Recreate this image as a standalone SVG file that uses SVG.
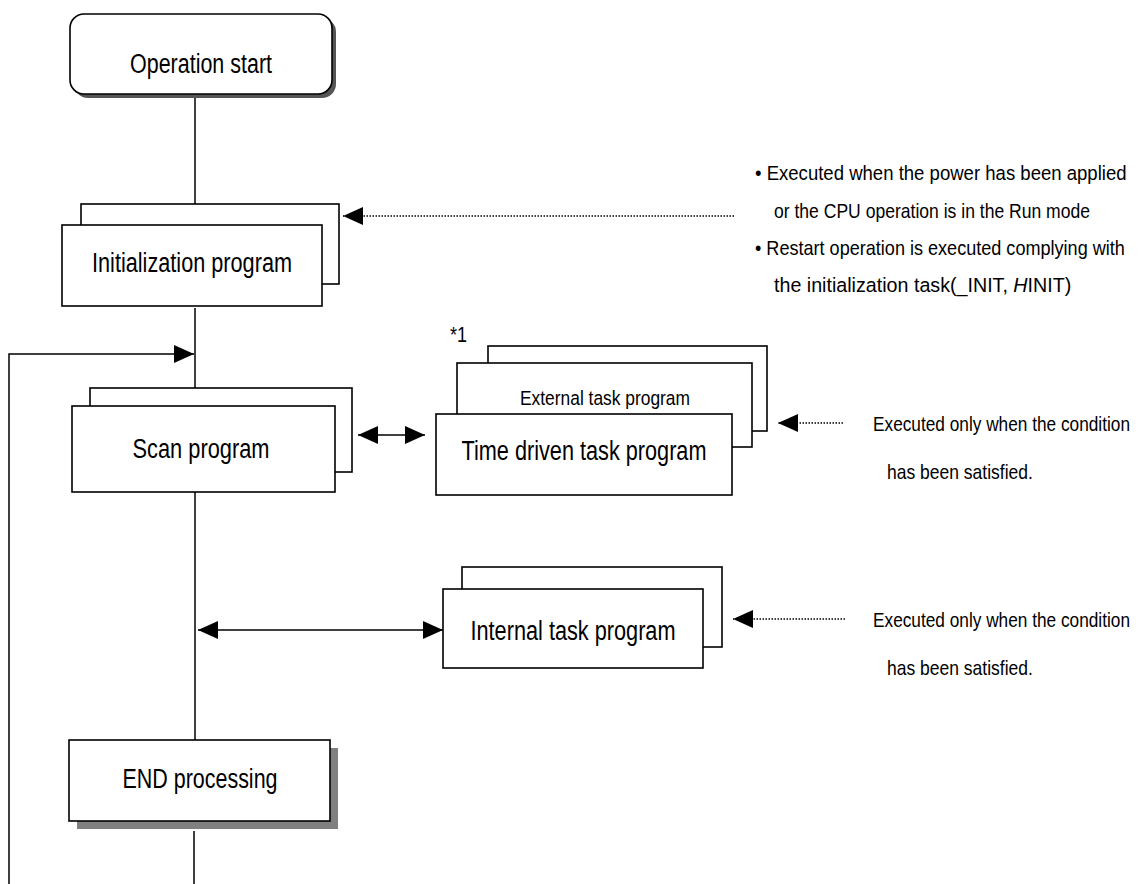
<svg xmlns="http://www.w3.org/2000/svg" width="1138" height="884" viewBox="0 0 1138 884">
<style>
.box{fill:#fff;stroke:#000;stroke-width:1.6}
.ln{fill:none;stroke:#000;stroke-width:1.5}
.dot{fill:none;stroke:#000;stroke-width:1.3;stroke-dasharray:1.5 1.5}
.t{font-family:"Liberation Sans",Arial,sans-serif;fill:#000}
.big{font-size:27px}
.sm{font-size:20.5px}
</style>
<defs>
<marker id="ah" markerUnits="userSpaceOnUse" markerWidth="20" markerHeight="20" refX="20" refY="9" orient="auto-start-reverse" viewBox="0 0 20 18">
<path d="M0,0 L20,9 L0,18 Z" fill="#000" stroke="none"/>
</marker>
</defs>
<rect width="1138" height="884" fill="#fff"/>
<g id="connectors">
<line class="ln" x1="195" y1="94" x2="195" y2="204"/>
<line class="ln" x1="195" y1="308" x2="195" y2="388"/>
<line class="ln" x1="195" y1="492" x2="195" y2="740"/>
<line class="ln" x1="194" y1="831" x2="194" y2="884"/>
<polyline class="ln" points="9,884 9,354 194,354" marker-end="url(#ah)"/>
<line class="ln" x1="358" y1="435" x2="425" y2="435" marker-start="url(#ah)" marker-end="url(#ah)"/>
<line class="ln" x1="198" y1="630" x2="443" y2="630" marker-start="url(#ah)" marker-end="url(#ah)"/>
<line class="dot" x1="734" y1="216" x2="343" y2="216" marker-end="url(#ah)"/>
<line class="dot" x1="843" y1="423" x2="778" y2="423" marker-end="url(#ah)"/>
<line class="dot" x1="845" y1="619" x2="733" y2="619" marker-end="url(#ah)"/>
</g>
<g id="start">
<rect x="74" y="18" width="262" height="80" rx="14" fill="#555"/>
<rect class="box" x="70" y="14" width="262" height="80" rx="14"/>
<text class="t big" x="201" y="73" text-anchor="middle" textLength="142" lengthAdjust="spacingAndGlyphs">Operation start</text>
</g>
<g id="init">
<rect class="box" x="81" y="204" width="258" height="80"/>
<rect class="box" x="62" y="225" width="260" height="81"/>
<text class="t big" x="192" y="272" text-anchor="middle" textLength="200" lengthAdjust="spacingAndGlyphs">Initialization program</text>
</g>
<g id="init-note">
<text class="t sm" transform="translate(755,180) scale(0.905,1)">• Executed when the power has been applied</text>
<text class="t sm" transform="translate(774,218) scale(0.856,1)">or the CPU operation is in the Run mode</text>
<text class="t sm" transform="translate(755,255) scale(0.882,1)">• Restart operation is executed complying with</text>
<text class="t sm" transform="translate(774,292) scale(0.96,1)">the initialization task(_INIT, <tspan font-style="italic">H</tspan>INIT)</text>
</g>
<g id="scan">
<rect class="box" x="90" y="388" width="262" height="84"/>
<rect class="box" x="72" y="406" width="263" height="86"/>
<text class="t big" x="201" y="458" text-anchor="middle" textLength="137" lengthAdjust="spacingAndGlyphs">Scan program</text>
</g>
<g id="timed">
<text class="t" font-size="22" x="450" y="342" textLength="17" lengthAdjust="spacingAndGlyphs">*1</text>
<rect class="box" x="488" y="346" width="279" height="85"/>
<rect class="box" x="457" y="363" width="295" height="84"/>
<text class="t sm" x="605" y="405" text-anchor="middle" textLength="170" lengthAdjust="spacingAndGlyphs">External task program</text>
<rect class="box" x="436" y="414" width="296" height="81"/>
<text class="t big" x="584" y="460" text-anchor="middle" textLength="245" lengthAdjust="spacingAndGlyphs">Time driven task program</text>
</g>
<g id="timed-note">
<text class="t sm" transform="translate(873,431) scale(0.842,1)">Executed only when the condition</text>
<text class="t sm" transform="translate(887,479) scale(0.854,1)">has been satisfied.</text>
</g>
<g id="internal">
<rect class="box" x="462" y="567" width="260" height="80"/>
<rect class="box" x="443" y="589" width="260" height="79"/>
<text class="t big" x="573" y="640" text-anchor="middle" textLength="205" lengthAdjust="spacingAndGlyphs">Internal task program</text>
</g>
<g id="internal-note">
<text class="t sm" transform="translate(873,627) scale(0.842,1)">Executed only when the condition</text>
<text class="t sm" transform="translate(887,675) scale(0.854,1)">has been satisfied.</text>
</g>
<g id="end">
<rect x="77" y="748" width="261" height="81" fill="#808080"/>
<rect class="box" x="69" y="740" width="261" height="81"/>
<text class="t big" x="200" y="788" text-anchor="middle" textLength="155" lengthAdjust="spacingAndGlyphs">END processing</text>
</g>
</svg>
